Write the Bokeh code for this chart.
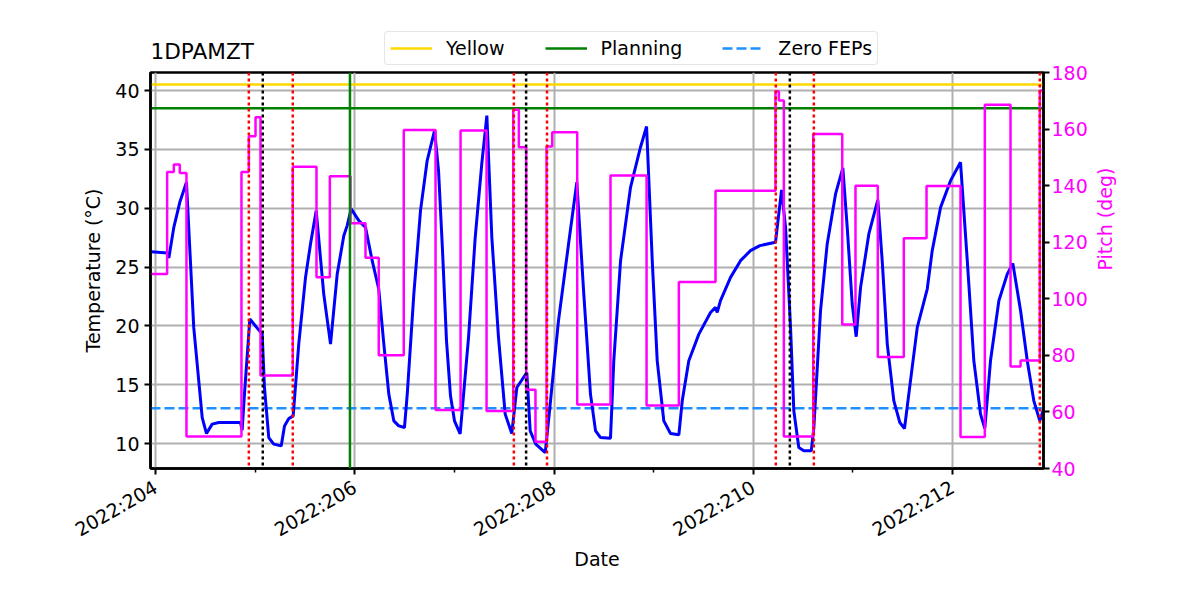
import math
from bokeh.plotting import figure
from bokeh.layouts import column
from bokeh.models import Range1d, LinearAxis, FixedTicker, Span, Legend, LegendItem, Label
from bokeh.embed import file_html
from bokeh.resources import INLINE

# ---------------- data ----------------
title_text = "1DPAMZT"

temp_day = [203.955, 204.123, 204.134, 204.184, 204.244, 204.311, 204.384, 204.469, 204.512, 204.569,
            204.635, 204.853, 204.870, 204.893, 204.947, 205.071, 205.094, 205.137, 205.187, 205.262,
            205.295, 205.338, 205.382, 205.438, 205.506, 205.556, 205.613, 205.689, 205.757, 205.824,
            205.890, 205.924, 205.964, 206.041, 206.108, 206.175, 206.241, 206.292, 206.342, 206.392,
            206.442, 206.499, 206.527, 206.593, 206.660, 206.727, 206.801, 206.841, 206.881, 206.921,
            206.961, 207.001, 207.058, 207.142, 207.209, 207.275, 207.326, 207.376, 207.443, 207.510,
            207.576, 207.627, 207.727, 207.761, 207.817, 207.912, 207.945, 208.045, 208.146, 208.229,
            208.299, 208.366, 208.417, 208.467, 208.567, 208.600, 208.668, 208.768, 208.868, 208.929,
            208.986, 209.036, 209.102, 209.169, 209.253, 209.287, 209.353, 209.454, 209.571, 209.621,
            209.638, 209.671, 209.772, 209.872, 209.972, 210.066, 210.223, 210.284, 210.324, 210.374,
            210.407, 210.457, 210.507, 210.582, 210.608, 210.675, 210.742, 210.826, 210.899, 210.943,
            210.993, 211.033, 211.077, 211.160, 211.250, 211.294, 211.345, 211.411, 211.471, 211.518,
            211.561, 211.646, 211.746, 211.796, 211.880, 211.980, 212.080, 212.148, 212.214, 212.281,
            212.324, 212.381, 212.465, 212.549, 212.605, 212.683, 212.750, 212.816, 212.876, 212.913]
temp_degc = [26.30, 26.19, 25.77, 28.37, 30.50, 32.20, 19.87, 12.21, 10.85, 11.65,
             11.79, 11.79, 11.14, 14.20, 20.58, 19.30, 14.76, 10.51, 9.95, 9.80,
             11.50, 12.12, 12.35, 18.45, 24.12, 26.96, 29.79, 22.70, 18.45, 24.40,
             27.66, 28.52, 29.94, 28.94, 28.37, 25.54, 23.13, 18.45, 14.20, 11.93,
             11.50, 11.36, 14.20, 22.70, 29.79, 34.05, 36.60, 33.20, 26.39, 18.73,
             14.06, 11.93, 10.82, 19.00, 27.50, 33.76, 37.87, 27.50, 19.00, 12.50,
             10.85, 14.76, 16.04, 11.08, 9.95, 9.23, 11.93, 20.44, 26.96, 32.20,
             22.70, 14.20, 11.08, 10.51, 10.46, 17.03, 25.54, 31.77, 35.18, 36.94,
             25.54, 17.03, 11.93, 10.85, 10.74, 13.63, 17.03, 19.30, 21.14, 21.57,
             21.14, 22.14, 24.12, 25.54, 26.39, 26.82, 27.10, 31.55, 28.37, 19.87,
             12.78, 9.66, 9.38, 9.38, 11.36, 21.29, 26.96, 31.21, 33.42, 28.37,
             21.86, 19.08, 23.27, 27.81, 30.70, 25.54, 18.45, 13.63, 11.79, 11.28,
             14.20, 19.87, 23.13, 26.39, 30.07, 32.34, 33.90, 25.54, 17.03, 12.50,
             11.28, 17.03, 22.14, 24.40, 25.31, 21.29, 17.03, 13.63, 11.93, 12.92]

pitch_day = [203.955, 204.117, 204.184, 204.244, 204.311, 204.863, 204.937, 205.004, 205.054, 205.378,
             205.616, 205.750, 205.957, 206.108, 206.241, 206.492, 206.811, 207.062, 207.323, 207.591,
             207.647, 207.721, 207.814, 207.925, 207.982, 208.233, 208.567, 208.929, 209.253, 209.621,
             210.223, 210.257, 210.307, 210.602, 210.893, 211.026, 211.250, 211.511, 211.739, 212.080,
             212.324, 212.582, 212.683, 212.876, 212.913]
pitch_deg = [108.8, 144.8, 147.5, 144.5, 51.3, 144.8, 157.5, 164.2, 72.9, 146.7,
             107.6, 143.3, 126.7, 114.5, 80.0, 159.7, 60.7, 159.5, 60.3, 166.8,
             153.6, 67.8, 49.5, 153.8, 158.9, 62.6, 143.6, 62.3, 105.9, 138.2,
             173.4, 170.1, 51.3, 158.3, 90.9, 140.0, 79.4, 121.4, 139.9, 51.1,
             168.6, 76.1, 78.2, 173.6, 173.6]

yellow_limit = 40.5
planning_limit = 38.5
zero_feps_limit = 13.0

red_times = [204.937, 205.378, 207.597, 207.930, 210.226, 210.608, 212.876]
black_times = [205.077, 207.720, 210.367]
green_times = [205.952]

x_ticks = [204, 206, 208, 210, 212]
x_minor_ticks = [205, 207, 209, 211]
x_tick_labels = ["2022:204", "2022:206", "2022:208", "2022:210", "2022:212"]
temp_ticks = [10, 15, 20, 25, 30, 35, 40]
pitch_ticks = [40, 60, 80, 100, 120, 140, 160, 180]

x_limits = [203.95, 212.913]
temp_limits = [7.88, 41.53]
pitch_limits = [40, 180]

# ---------------- styles ----------------
FONT = "DejaVu Sans"
FS = "19px"
C_YELLOW = "#FFD700"
C_PLAN = "#008000"
C_ZERO = "#1E90FF"
HEADER_H = 68
OVERLAP = 8

# ---------------- main figure ----------------
p = figure(frame_width=893, frame_height=396,
           x_range=Range1d(*x_limits), y_range=Range1d(*temp_limits),
           output_backend="svg", toolbar_location=None,
           min_border_left=150, min_border_right=157, min_border_top=72 - HEADER_H + OVERLAP,
           min_border_bottom=132,
           background_fill_color="white", border_fill_color="white", border_fill_alpha=0.0)
p.margin = (-OVERLAP, 0, 0, 0)
p.title_location = None
p.extra_y_ranges = {"pitch": Range1d(*pitch_limits)}

p.outline_line_color = "black"
p.outline_line_width = 2.5
p.outline_line_alpha = 1.0

p.xgrid.grid_line_color = "#b0b0b0"
p.xgrid.grid_line_width = 2
p.ygrid.grid_line_color = "#b0b0b0"
p.ygrid.grid_line_width = 2

xax = p.xaxis[0]
xax.ticker = FixedTicker(ticks=x_ticks, minor_ticks=x_minor_ticks)
xax.major_label_overrides = {t: lab for t, lab in zip(x_ticks, x_tick_labels)}
xax.major_label_orientation = math.pi / 6
xax.axis_label = "Date"

yax = p.yaxis[0]
yax.ticker = FixedTicker(ticks=temp_ticks)
yax.axis_label = "Temperature (°C)"

rax = LinearAxis(y_range_name="pitch", ticker=FixedTicker(ticks=pitch_ticks), axis_label="Pitch (deg)")
p.add_layout(rax, "right")

for ax in (xax, yax, rax):
    ax.axis_line_color = "black"
    ax.axis_line_width = 2.5
    ax.major_tick_line_color = "black"
    ax.major_tick_line_width = 2
    ax.major_tick_out = 6
    ax.major_tick_in = 0
    ax.minor_tick_out = 0
    ax.minor_tick_in = 0
    ax.major_label_text_font = FONT
    ax.major_label_text_font_size = FS
    ax.major_label_text_color = "black"
    ax.major_label_standoff = 5
    ax.axis_label_text_font = FONT
    ax.axis_label_text_font_size = FS
    ax.axis_label_text_font_style = "normal"
    ax.axis_label_text_color = "black"
    ax.axis_label_standoff = 8

xax.minor_tick_out = 4
xax.minor_tick_line_color = "black"
xax.minor_tick_line_width = 1.5
xax.major_label_standoff = 11
xax.axis_label_standoff = -5
rax.major_label_standoff = 2
rax.axis_label_standoff = 14
rax.major_label_text_color = "#FF00FF"
rax.axis_label_text_color = "#FF00FF"
if "axis_label_orientation" in rax.properties():
    rax.axis_label_orientation = math.pi / 2

p.line(x=x_limits, y=[yellow_limit, yellow_limit], line_color=C_YELLOW, line_width=2.5)
p.line(x=x_limits, y=[planning_limit, planning_limit], line_color=C_PLAN, line_width=2.5)
p.line(x=x_limits, y=[zero_feps_limit, zero_feps_limit], line_color=C_ZERO, line_width=2.5, line_dash="10 4")

p.line(x=temp_day, y=temp_degc, line_color="#0000FF", line_width=3)
p.step(x=pitch_day, y=pitch_deg, mode="after", y_range_name="pitch", line_color="#FF00FF", line_width=2.5)

for t in green_times:
    p.add_layout(Span(location=t, dimension="height", line_color=C_PLAN, line_width=2.5))
for t in red_times:
    p.add_layout(Span(location=t, dimension="height", line_color="#FF0000", line_width=2.5, line_dash="3 3"))
for t in black_times:
    p.add_layout(Span(location=t, dimension="height", line_color="black", line_width=2.5, line_dash="3 3"))

# ---------------- header strip: title + legend (frame aligned with main frame) ----------------
h = figure(width=1200, height=HEADER_H, x_range=Range1d(0, 1), y_range=Range1d(0, 1),
           x_axis_type=None, y_axis_type=None, output_backend="svg", toolbar_location=None,
           min_border=0, min_border_left=0, min_border_right=0, min_border_top=0, min_border_bottom=0,
           background_fill_color="white", border_fill_color="white")
h.title_location = None
h.outline_line_color = None
h.grid.visible = False

# legend proxies (same limit values, outside the strip's visible range)
hy = h.line(x=x_limits, y=[yellow_limit, yellow_limit], line_color=C_YELLOW, line_width=2.5)
hp = h.line(x=x_limits, y=[planning_limit, planning_limit], line_color=C_PLAN, line_width=2.5)
hz = h.line(x=x_limits, y=[zero_feps_limit, zero_feps_limit], line_color=C_ZERO, line_width=2.5, line_dash="10 4")

h.add_layout(Label(x=0, y=17, x_units="screen", y_units="screen", text=title_text,
                   text_font=FONT, text_font_size="21.6px", text_color="black",
                   text_baseline="alphabetic", text_align="left"))

legend = Legend(items=[LegendItem(label="Yellow", renderers=[hy]),
                       LegendItem(label="Planning", renderers=[hp]),
                       LegendItem(label="Zero FEPs", renderers=[hz])],
                orientation="horizontal", location=(234, 3))
legend.label_text_font = FONT
legend.label_text_font_size = FS
legend.label_text_color = "black"
legend.glyph_width = 42
legend.glyph_height = 20
legend.label_standoff = 14
legend.spacing = 40
legend.padding = 5
legend.margin = 0
legend.border_line_color = "#cccccc"
legend.border_line_width = 1
legend.background_fill_color = "white"
legend.background_fill_alpha = 0.8
legend.label_height = 20
if "border_radius" in legend.properties():
    legend.border_radius = 4
h.add_layout(legend)

layout = column(h, p, spacing=0)
open("out.html", "w").write(file_html(layout, INLINE))
